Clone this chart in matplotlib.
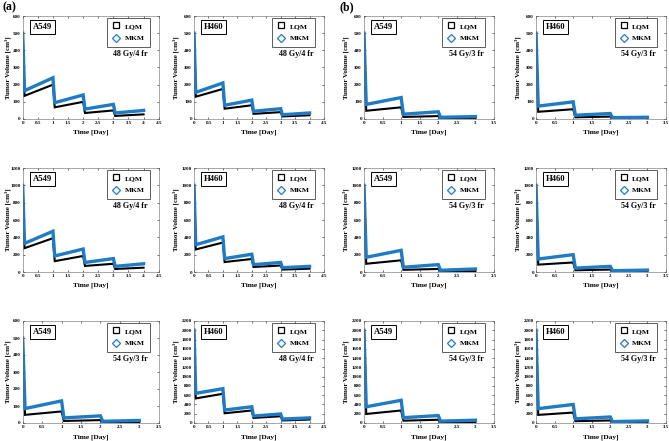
import matplotlib
matplotlib.use("Agg")
import matplotlib.pyplot as plt
from matplotlib.lines import Line2D

plt.rcParams['font.family'] = ['Liberation Serif', 'DejaVu Serif']
plt.rcParams['font.weight'] = 'bold'

# time breakpoints (days): fraction given at each integer day
t4 = [0, 0.06, 1, 1.06, 2, 2.06, 3, 3.06, 4]
t3 = [0, 0.06, 1, 1.06, 2, 2.06, 3]

# row 1 (initial 500 cm3)
a549_48_r1_lqm = [500, 135, 200, 68, 100, 35, 50, 18, 27]
a549_48_r1_mkm = [500, 165, 240, 95, 140, 58, 85, 35, 50]
h460_48_r1_lqm = [500, 130, 175, 60, 80, 30, 40, 15, 22]
h460_48_r1_mkm = [500, 155, 210, 80, 110, 45, 60, 25, 35]
a549_54_r1_lqm = [500, 48, 68, 12, 17, 4, 5]
a549_54_r1_mkm = [500, 85, 125, 28, 42, 10, 14]
h460_54_r1_lqm = [500, 42, 57, 10, 14, 3, 4]
h460_54_r1_mkm = [500, 75, 100, 22, 32, 8, 10]

# row 2 (initial 1000 cm3)
a549_48_r2_lqm = [1000, 275, 390, 125, 185, 70, 95, 35, 50]
a549_48_r2_mkm = [1000, 330, 470, 185, 265, 110, 155, 65, 95]
h460_48_r2_lqm = [1000, 260, 340, 115, 150, 58, 75, 28, 38]
h460_48_r2_mkm = [1000, 315, 405, 155, 205, 85, 110, 50, 65]
a549_54_r2_lqm = [1000, 95, 135, 25, 35, 8, 10]
a549_54_r2_mkm = [1000, 170, 250, 55, 85, 20, 35]
h460_54_r2_lqm = [1000, 85, 110, 20, 28, 5, 7]
h460_54_r2_mkm = [1000, 150, 200, 45, 65, 15, 22]

# row 3
a549_54_r3_lqm = [500, 48, 68, 12, 17, 4, 5]
a549_54_r3_mkm = [500, 85, 130, 30, 42, 10, 15]
h460_48_r3_lqm = [2000, 530, 630, 210, 270, 110, 145, 55, 75]
h460_48_r3_mkm = [2000, 640, 740, 280, 350, 150, 195, 85, 110]
a549_54_r3b_lqm = [2000, 195, 270, 50, 70, 15, 20]
a549_54_r3b_mkm = [2000, 350, 490, 115, 160, 40, 60]
h460_54_r3_lqm = [2000, 175, 225, 40, 55, 10, 15]
h460_54_r3_mkm = [2000, 310, 400, 90, 130, 30, 45]

panels = [
    # row, col, cell, dose, t, lqm, mkm, ymax, ystep, xmax
    (0, 0, 'A549', '48 Gy/4 fr', t4, a549_48_r1_lqm, a549_48_r1_mkm, 600, 100, 4.5),
    (0, 1, 'H460', '48 Gy/4 fr', t4, h460_48_r1_lqm, h460_48_r1_mkm, 600, 100, 4.5),
    (0, 2, 'A549', '54 Gy/3 fr', t3, a549_54_r1_lqm, a549_54_r1_mkm, 600, 100, 3.5),
    (0, 3, 'H460', '54 Gy/3 fr', t3, h460_54_r1_lqm, h460_54_r1_mkm, 600, 100, 3.5),
    (1, 0, 'A549', '48 Gy/4 fr', t4, a549_48_r2_lqm, a549_48_r2_mkm, 1200, 200, 4.5),
    (1, 1, 'H460', '48 Gy/4 fr', t4, h460_48_r2_lqm, h460_48_r2_mkm, 1200, 200, 4.5),
    (1, 2, 'A549', '54 Gy/3 fr', t3, a549_54_r2_lqm, a549_54_r2_mkm, 1200, 200, 3.5),
    (1, 3, 'H460', '54 Gy/3 fr', t3, h460_54_r2_lqm, h460_54_r2_mkm, 1200, 200, 3.5),
    (2, 0, 'A549', '54 Gy/3 fr', t3, a549_54_r3_lqm, a549_54_r3_mkm, 600, 100, 3.5),
    (2, 1, 'H460', '48 Gy/4 fr', t4, h460_48_r3_lqm, h460_48_r3_mkm, 2200, 200, 4.5),
    (2, 2, 'A549', '54 Gy/3 fr', t3, a549_54_r3b_lqm, a549_54_r3b_mkm, 2200, 200, 3.5),
    (2, 3, 'H460', '54 Gy/3 fr', t3, h460_54_r3_lqm, h460_54_r3_mkm, 2200, 200, 3.5),
]

blue = '#1f7bc4'
W, H = 669, 441
col_left = [22.7, 194, 364, 536]
col_w = [136, 130, 130, 130]
row_top = [16, 168, 321]
row_bot = [119, 272, 423]
ylab_off = [12, 15, 15, 15]

fig = plt.figure(figsize=(W / 100, H / 100), dpi=100)

for r, c, cell, dose, t, lqm, mkm, ymax, ystep, xmax in panels:
    ah = row_bot[r] - row_top[r]
    ax = fig.add_axes([col_left[c] / W, 1 - row_bot[r] / H, col_w[c] / W, ah / H])
    ax.plot(t, lqm, color='black', lw=1.5, solid_joinstyle='miter')
    ax.plot(t, mkm, color=blue, lw=2.4, solid_joinstyle='miter')
    ax.set_xlim(0, xmax)
    ax.set_ylim(0, ymax)
    nx = int(xmax * 2) + 1
    ax.set_xticks([i * 0.5 for i in range(nx)])
    ax.set_xticklabels(['%g' % (i * 0.5) for i in range(nx)])
    ax.set_yticks(list(range(0, ymax + 1, ystep)))
    ax.tick_params(labelsize=3.6, length=1.5, width=0.4, direction='in',
                   top=True, right=True, pad=1.5)
    for s in ax.spines.values():
        s.set_linewidth(0.4)
        s.set_color('#666666')
    ax.set_xlabel('Time [Day]', fontsize=5.3, fontweight='bold')
    ax.xaxis.set_label_coords(0.5, -11 / ah)
    ax.xaxis.label.set_va('top')
    ax.set_ylabel('Tumor Volume [cm\u00b3]', fontsize=5.0, fontweight='bold')
    ax.yaxis.set_label_coords(-ylab_off[c] / col_w[c], 0.5)
    ax.text(0.075, 0.93, cell, transform=ax.transAxes, fontsize=6.2, fontweight='bold',
            va='top', ha='left',
            bbox=dict(boxstyle='square,pad=0.35', fc='white', ec='black', lw=0.7))
    handles = [Line2D([], [], ls='none', marker='s', mfc='none', mec='black', ms=4.4, mew=0.9),
               Line2D([], [], ls='none', marker='D', mfc='none', mec=blue, ms=4.4, mew=0.9)]
    leg = ax.legend(handles, ['LQM', 'MKM'], loc='upper right', fontsize=5.4,
                    bbox_to_anchor=(1 - 9 / col_w[c], 1 - 1.5 / ah),
                    frameon=True, fancybox=False, borderpad=0.7, labelspacing=0.8,
                    handletextpad=0.6, handlelength=1.0, borderaxespad=0.0)
    leg.get_frame().set_edgecolor('#333333')
    leg.get_frame().set_linewidth(0.7)
    ax.text(0.92, 0.63, dose, transform=ax.transAxes, fontsize=5.8, fontweight='bold',
            ha='right', va='center')

fig.text(0.003, 0.998, '(a)', fontsize=8.5, fontweight='bold', va='top')
fig.text(0.507, 0.998, '(b)', fontsize=8.5, fontweight='bold', va='top')

fig.savefig('out.png', dpi=100)
